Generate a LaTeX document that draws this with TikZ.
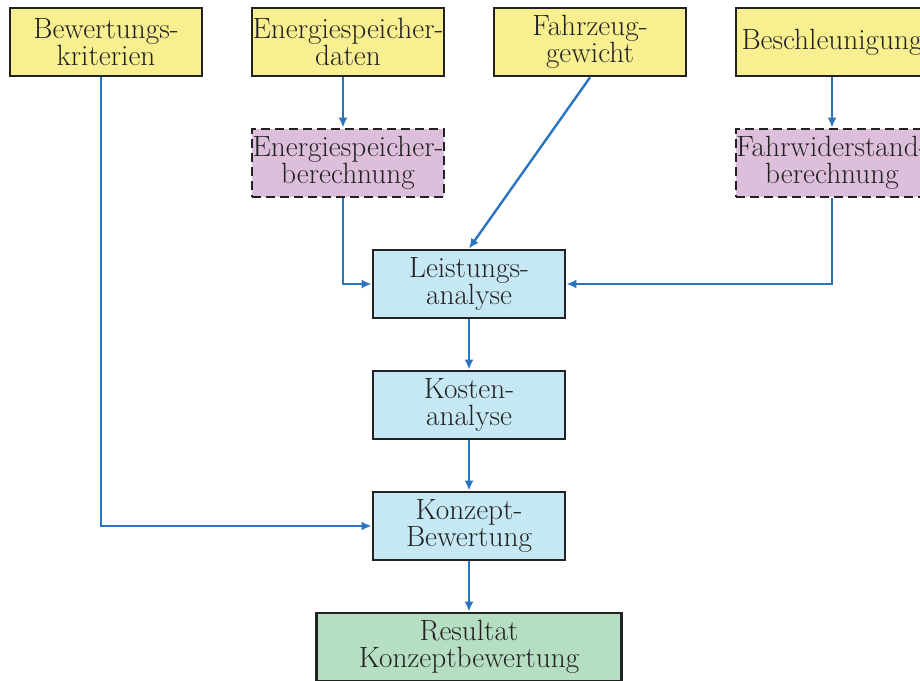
\documentclass[tikz,border=0pt]{standalone}
\usetikzlibrary{arrows.meta}
\definecolor{boxyellow}{HTML}{F7EF90}
\definecolor{boxpurple}{HTML}{DDBFDC}
\definecolor{boxblue}{HTML}{C6E8F4}
\definecolor{boxgreen}{HTML}{B5DEC3}
\definecolor{arrowblue}{HTML}{2A74C0}
\definecolor{edge}{HTML}{222222}
\tikzset{
  basebox/.style={draw=edge, line width=2.8pt, minimum width=192pt, minimum height=68pt,
    inner sep=0pt, align=center, text=edge, font=\fontsize{29.3}{27}\selectfont},
  inbox/.style={basebox, fill=boxyellow},
  calcbox/.style={basebox, fill=boxpurple, dash pattern=on 9pt off 5pt},
  procbox/.style={basebox, fill=boxblue},
  resbox/.style={basebox, fill=boxgreen, minimum width=305pt},
  conn/.style={draw=arrowblue, line width=2.4pt, -{Latex[length=10pt,width=9pt]}}
}
\begin{document}
\begin{tikzpicture}[x=1pt,y=-1pt]
\useasboundingbox (0,0) rectangle (920,680);
\node[inbox] (bew) at (106,42) {Bewertungs-\\kriterien};
\node[inbox] (esd) at (348,42) {Energiespeicher-\\daten};
\node[inbox] (fzg) at (590,42) {Fahrzeug-\\gewicht};
\node[inbox] (bes) at (832,42) {Beschleunigung};
\node[calcbox] (esb) at (348,163) {Energiespeicher-\\berechnung};
\node[calcbox] (fwb) at (832,163) {Fahrwiderstand-\\berechnung};
\node[procbox] (lei) at (469,284) {Leistungs-\\analyse};
\node[procbox] (kos) at (469,405) {Kosten-\\analyse};
\node[procbox] (kon) at (469,526) {Konzept-\\Bewertung};
\node[resbox] (res) at (469,647) {Resultat\\Konzeptbewertung};
\draw[conn] ([xshift=-5pt]esd.south) -- ([xshift=-5pt]esb.north);
\draw[conn] (bes.south) -- (fwb.north);
\draw[conn] ([xshift=-5pt]esb.south) |- (lei.west);
\draw[conn] (fwb.south) |- (lei.east);
\draw[conn] (fzg.south) -- (lei.north);
\draw[conn] (lei.south) -- (kos.north);
\draw[conn] (kos.south) -- (kon.north);
\draw[conn] ([xshift=-5pt]bew.south) |- (kon.west);
\draw[conn] (kon.south) -- (res.north);
\end{tikzpicture}
\end{document}
